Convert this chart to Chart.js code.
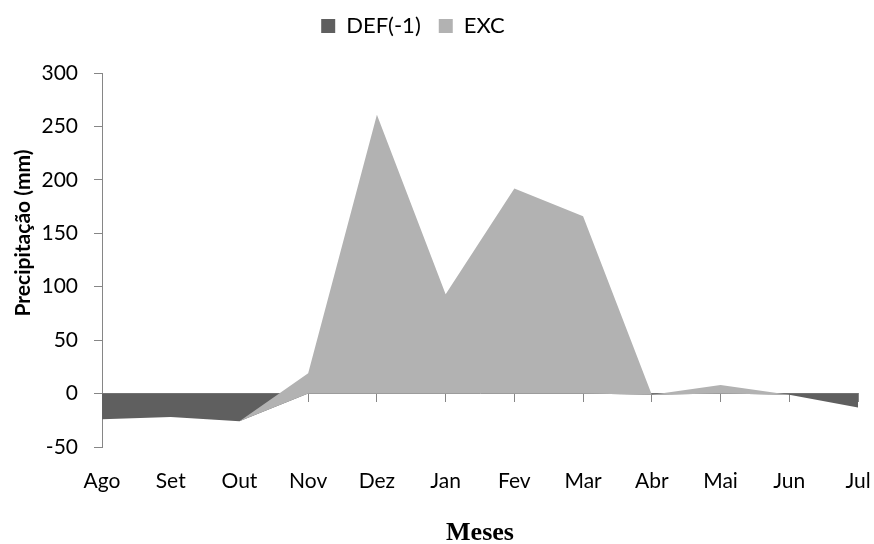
<!DOCTYPE html>
<html>
<head>
<meta charset="utf-8">
<script src="https://cdn.jsdelivr.net/npm/chart.js@4.4.1/dist/chart.umd.min.js"></script>
<style>
  html, body { margin: 0; padding: 0; background: #fff; }
  #wrap { width: 874px; height: 544px; }
</style>
</head>
<body>
<div id="wrap"><canvas id="chart" width="874" height="544"></canvas></div>
<script>
"use strict";

// Data
var months   = ['Ago', 'Set', 'Out', 'Nov', 'Dez', 'Jan', 'Fev', 'Mar', 'Abr', 'Mai', 'Jun', 'Jul'];
var defVals  = [-24, -22, -26, 0, 0, 0, 0, 0, -1, 0, -1, -13];
var excVals  = [0, 0, 0, 19, 261, 93, 192, 166, 0, 8, 0, 0];
var yTicks   = { min: -50, max: 300, step: 50 };

// Stacked top of EXC over DEF (Excel stacked area adds values regardless of sign)
var excTop = excVals.map( function( v, i ) { return v + defVals[i]; } );

var AXIS = '#868686';
var FONT = 'Lato';

// Taller legend box so the plot starts lower, and nudge it into place
var legendBox = {
	id: 'legendBox',
	beforeInit: function( chart ) {
		var fit = chart.legend.fit;
		chart.legend.fit = function() {
			fit.call( this );
			this.height = 73;
		};
	},
	afterLayout: function( chart ) {
		var lg = chart.legend;
		lg.left  -= 16;
		lg.right -= 16;
		lg.top   -= 3;
	}
};

// Y title drawn by hand (sits above the axis centre in the original)
var yTitle = {
	id: 'yTitle',
	afterDraw: function( chart ) {
		var ctx = chart.ctx;
		ctx.save();
		ctx.translate( 23, 233 );
		ctx.rotate( -Math.PI / 2 );
		ctx.font = 'bold 21px ' + FONT;
		ctx.fillStyle = '#000';
		ctx.textAlign = 'center';
		ctx.textBaseline = 'middle';
		ctx.fillText( 'Precipitação (mm)', 0, 0 );
		ctx.restore();
	}
};

// no extra side padding from the first/last category labels
function noSidePadding( scale ) {
	scale.paddingLeft = 0;
	scale.paddingRight = 0;
}

var config = {
	type: 'line',
	data: {
		labels: months,
		datasets: [
			// EXC first so it is painted over DEF
			{
				label: 'EXC',
				data: excTop,
				backgroundColor: '#b2b2b2',
				borderColor: 'rgba(0,0,0,0)',
				borderWidth: 0,
				pointRadius: 0,
				tension: 0,
				fill: '+1'
			},
			{
				label: 'DEF(-1)',
				data: defVals,
				backgroundColor: '#5f5f5f',
				borderColor: 'rgba(0,0,0,0)',
				borderWidth: 0,
				pointRadius: 0,
				tension: 0,
				fill: 'origin'
			}
		]
	},
	options: {
		responsive: false,
		animation: false,
		layout: { padding: { top: 0, right: 16, bottom: 0, left: 0 } },
		plugins: {
			legend: {
				position: 'top',
				reverse: true,
				labels: {
					color: '#000',
					font: { family: FONT, size: 22 },
					boxWidth: 14,
					boxHeight: 14,
					padding: 18
				}
			},
			tooltip: { enabled: false }
		},
		scales: {
			x: {
				type: 'category',
				offset: false,
				grid: { display: false, drawTicks: false },
				border: { display: false },
				ticks: {
					color: '#000',
					font: { family: FONT, size: 21 },
					padding: 22,
					maxRotation: 0,
					autoSkip: false
				},
				title: {
					display: true,
					text: 'Meses',
					color: '#000',
					font: { family: 'Liberation Serif', size: 26, weight: 'bold', lineHeight: 0.8 },
					padding: 0
				},
				afterFit: function( scale ) {
					scale.height = 97;
					noSidePadding( scale );
				}
			},
			// category axis crossing at zero, ticks only
			x2: {
				type: 'category',
				position: { y: 0 },
				offset: false,
				z: 1,
				grid: { display: true, drawOnChartArea: false, drawTicks: true, tickLength: 8, color: AXIS },
				border: { display: true, color: AXIS, width: 1 },
				ticks: { display: false },
				afterFit: noSidePadding
			},
			y: {
				min: yTicks.min,
				max: yTicks.max,
				z: 1,
				grid: { display: true, drawOnChartArea: false, drawTicks: true, tickLength: 8, color: AXIS },
				border: { display: true, color: AXIS, width: 1 },
				ticks: {
					stepSize: yTicks.step,
					color: '#000',
					font: { family: FONT, size: 21 },
					padding: 16
				},
				afterFit: function( scale ) { scale.width = 102; }
			}
		}
	},
	plugins: [ legendBox, yTitle ]
};

new Chart( document.getElementById( 'chart' ), config );
</script>
</body>
</html>
